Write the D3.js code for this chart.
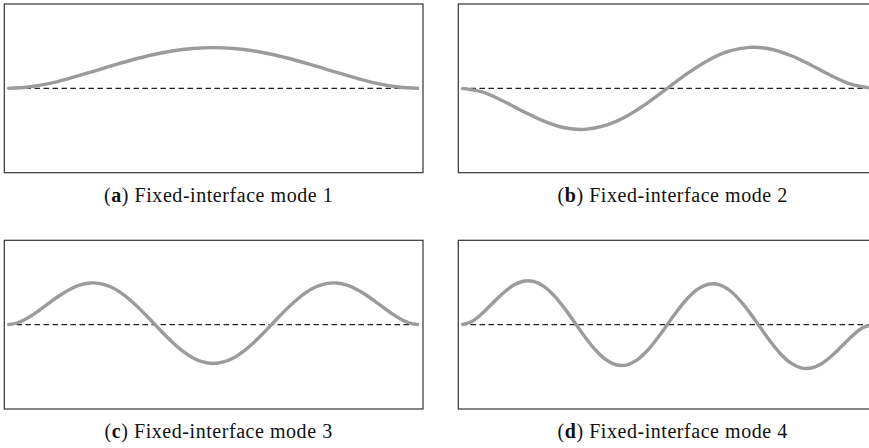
<!DOCTYPE html>
<html>
<head>
<meta charset="utf-8">
<script src="https://cdn.jsdelivr.net/npm/d3@7"></script>
<style>
  html, body { margin: 0; padding: 0; background: #fff; }
  svg { display: block; }
</style>
</head>
<body>
<svg id="chart" width="869" height="448"></svg>
<script>
// Normalised positions along the beam span
const xMode12 = [0, .05, .1, .15, .2, .25, .3, .35, .4, .45, .5, .55, .6, .65, .7, .75, .8, .85, .9, .95, 1];
const xMode34 = [0, .025, .05, .075, .1, .125, .15, .175, .2, .225, .25, .275, .3, .325, .35, .375, .4, .425, .45, .475, .5,
                 .525, .55, .575, .6, .625, .65, .675, .7, .725, .75, .775, .8, .825, .85, .875, .9, .925, .95, .975, 1];

// Fixed-interface mode shapes (deflection, fraction of the frame half-height)
const mode1 = [0, .016, .057, .118, .188, .263, .333, .395, .443, .473, .483, .473, .443, .395, .333, .263, .188, .118, .057, .016, 0];
const mode2 = [0, -.043, -.147, -.274, -.389, -.467, -.486, -.440, -.334, -.180, 0, .180, .334, .440, .486, .467, .389, .274, .147, .043, 0];
const mode3 = [0, .0225, .0808, .1617, .2520, .3400, .4149, .4681, .4935, .4872, .4486, .3795, .2843, .1696, .0436, -.0846,
               -.2056, -.3105, -.3915, -.4426, -.4602, -.4426, -.3915, -.3105, -.2056, -.0846, .0436, .1696, .2843, .3795,
               .4486, .4872, .4935, .4681, .4149, .3400, .2520, .1617, .0808, .0225, 0];
const mode4 = [0, .0379, .1315, .2512, .3695, .4632, .5142, .5120, .4537, .3444, .1961, .0262, -.1453, -.2976, -.4123, -.4754,
               -.4792, -.4236, -.3154, -.1681, 0, .1681, .3154, .4236, .4792, .4754, .4123, .2976, .1453, -.0262, -.1961,
               -.3444, -.4537, -.5120, -.5142, -.4632, -.3695, -.2512, -.1315, -.0379, 0];

const letters = ["a", "b", "c", "d"];
const captions = ["Fixed-interface mode 1", "Fixed-interface mode 2", "Fixed-interface mode 3", "Fixed-interface mode 4"];

const panels = [
  { xs: xMode12, ys: mode1, col: 0, row: 0 },
  { xs: xMode12, ys: mode2, col: 1, row: 0 },
  { xs: xMode34, ys: mode3, col: 0, row: 1 },
  { xs: xMode34, ys: mode4, col: 1, row: 1 }
];

const svg = d3.select("#chart");
const frameW = 418.7, frameH = 168.7;
const colX = [4.3, 458.3], rowY = [4, 240.3];
const inset = 3.2;

panels.forEach((p, i) => {
  const x0 = colX[p.col], y0 = rowY[p.row];
  const x = d3.scaleLinear().domain([0, 1]).range([x0 + inset, x0 + frameW - 4]);
  const y = d3.scaleLinear().domain([-1, 1]).range([y0 + frameH, y0]);
  const g = svg.append("g");

  g.append("rect")
    .attr("x", x0).attr("y", y0)
    .attr("width", frameW).attr("height", frameH)
    .attr("fill", "none")
    .attr("stroke", "#333")
    .attr("stroke-width", 1.2);

  // undeformed reference line
  g.append("line")
    .attr("x1", x(0)).attr("x2", x(1))
    .attr("y1", y(0)).attr("y2", y(0))
    .attr("stroke", "#222")
    .attr("stroke-width", 1.1)
    .attr("stroke-dasharray", "5.5,3.5");

  const line = d3.line()
    .x((d, k) => x(p.xs[k]))
    .y(d => y(d))
    .curve(d3.curveCatmullRom.alpha(0.5));

  g.append("path")
    .datum(p.ys)
    .attr("d", line)
    .attr("fill", "none")
    .attr("stroke", "#9b9b9b")
    .attr("stroke-width", 3.4)
    .attr("stroke-linecap", "butt");

  const cap = svg.append("text")
    .attr("x", x0 + frameW / 2 + 5)
    .attr("y", y0 + frameH + 29)
    .attr("text-anchor", "middle")
    .attr("font-family", "'Liberation Serif', 'DejaVu Serif', serif")
    .attr("font-size", 20)
    .attr("letter-spacing", 0.55)
    .attr("fill", "#111");
  cap.append("tspan").text("(");
  cap.append("tspan").attr("font-weight", "bold").text(letters[i]);
  cap.append("tspan").text(") " + captions[i]);
});
</script>
</body>
</html>
